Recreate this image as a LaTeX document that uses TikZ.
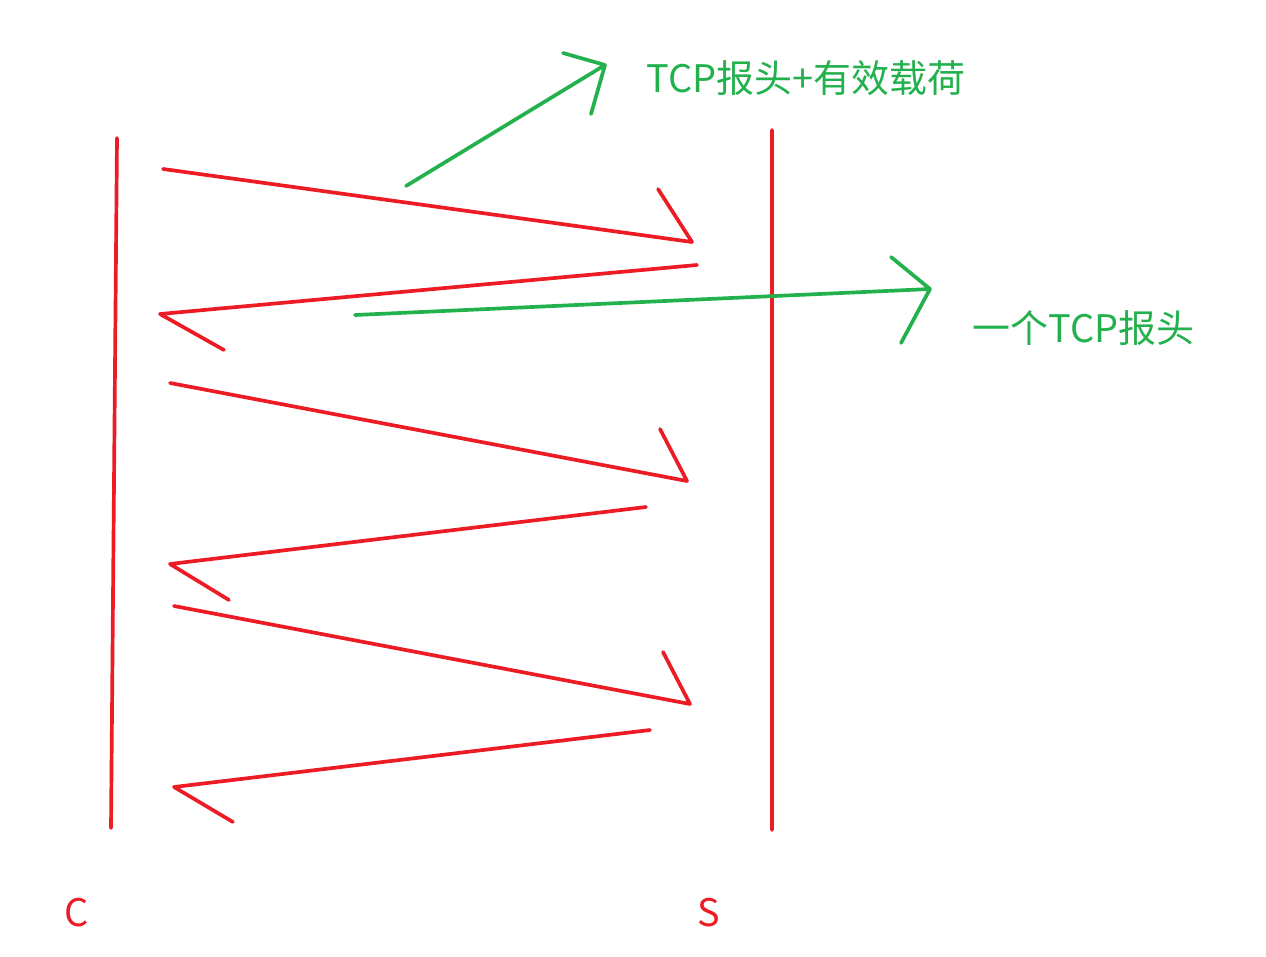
\documentclass[tikz,border=0pt]{standalone}
\usepackage{fontspec}
\setmainfont{Noto Sans CJK SC}
\usepackage{tikz}
\usetikzlibrary{calc}
\definecolor{paintRed}{RGB}{237,28,36}
\definecolor{paintGreen}{RGB}{34,177,76}
\tikzset{
  redLine/.style={%
    draw=paintRed, line width=2.1pt, line cap=round, line join=round,
  },
  greenLine/.style={%
    draw=paintGreen, line width=2.1pt, line cap=round, line join=round,
  },
  labelNode/.style={%
    inner sep=0pt, font=\fontsize{21.6}{26}\selectfont,
  }
}
\begin{document}
\begin{tikzpicture}[x=0.02cm,y=-0.02cm]

          \useasboundingbox (0,0) rectangle (1266,956);

          % the two hosts
          \coordinate (cTop) at (117,138);
          \coordinate (cBot) at (111,828);
          \coordinate (sTop) at (772,130);
          \coordinate (sBot) at (772,830);
          \node[labelNode,text=paintRed] (cName) at (77,913) {C};
          \node[labelNode,text=paintRed] (sName) at (709,913) {S};

          % messages
          \coordinate (m1a) at (163,169);
          \coordinate (m1b) at (692,242);
          \coordinate (m1c) at (658,189);
          \coordinate (m2a) at (697,265);
          \coordinate (m2b) at (160,314);
          \coordinate (m2c) at (224,350);
          \coordinate (m3a) at (170,383);
          \coordinate (m3b) at (687,481);
          \coordinate (m3c) at (660,429);
          \coordinate (m4a) at (646,507);
          \coordinate (m4b) at (170,564);
          \coordinate (m4c) at (229,600);
          \coordinate (m5a) at (174,606);
          \coordinate (m5b) at (690,704);
          \coordinate (m5c) at (663,652);
          \coordinate (m6a) at (650,730);
          \coordinate (m6b) at (174,787);
          \coordinate (m6c) at (233,822);

          \draw[redLine]
            (cTop) -- (cBot)
            (sTop) -- (sBot)
            (m1a) -- (m1b) -- (m1c)
            (m2a) -- (m2b) -- (m2c)
            (m3a) -- (m3b) -- (m3c)
            (m4a) -- (m4b) -- (m4c)
            (m5a) -- (m5b) -- (m5c)
            (m6a) -- (m6b) -- (m6c)
            ;

          % annotations
          \coordinate (g1a) at (406,186);
          \coordinate (g1b) at (605,65);
          \coordinate (g1l) at (563,53);
          \coordinate (g1r) at (591,114);
          \coordinate (g2a) at (355,315);
          \coordinate (g2b) at (930,289);
          \coordinate (g2l) at (891,257);
          \coordinate (g2r) at (901,343);
          \node[labelNode,text=paintGreen,anchor=west] (dataNote) at (646,78) {TCP报头+有效载荷};
          \node[labelNode,text=paintGreen,anchor=west] (ackNote) at (972,328) {一个TCP报头};

          \draw[greenLine]
            (g1a) -- (g1b)
            (g1l) -- (g1b) -- (g1r)
            (g2a) -- (g2b)
            (g2l) -- (g2b) -- (g2r)
            ;

        \end{tikzpicture}
\end{document}
